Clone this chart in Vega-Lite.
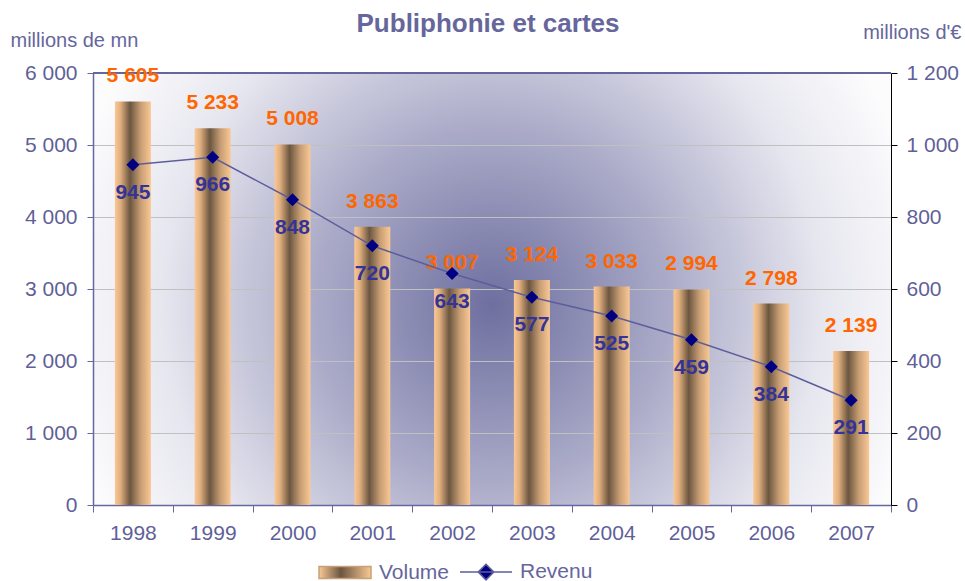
{
  "$schema": "https://vega.github.io/schema/vega-lite/v6.json",
  "width": 798,
  "height": 432,
  "autosize": "none",
  "padding": {"left": 93, "top": 73, "right": 74, "bottom": 76},
  "background": "white",
  "title": {"text": "Publiphonie et cartes", "fontSize": 26, "font": "Liberation Sans", "fontWeight": "bold", "color": "#66669c", "offset": -15, "dx": -4},
  "config": {
    "locale": {"number": {"decimal": ",", "thousands": " ", "grouping": [3], "currency": ["", ""]}},
    "font": "Liberation Sans",
    "view": {
      "stroke": null,
      "fill": {"gradient": "radial", "x1": 0.5, "y1": 0.52, "r1": 0, "x2": 0.5, "y2": 0.52, "r2": 0.55,
        "stops": [{"offset": 0, "color": "#6e6f9f"}, {"offset": 0.4, "color": "#aaaac8"}, {"offset": 0.75, "color": "#e6e6ef"}, {"offset": 1, "color": "#fcfcfd"}]}
    }
  },
  "data": {"values": [
    {"year": "1998", "volume": 5605, "revenu": 945},
    {"year": "1999", "volume": 5233, "revenu": 966},
    {"year": "2000", "volume": 5008, "revenu": 848},
    {"year": "2001", "volume": 3863, "revenu": 720},
    {"year": "2002", "volume": 3007, "revenu": 643},
    {"year": "2003", "volume": 3124, "revenu": 577},
    {"year": "2004", "volume": 3033, "revenu": 525},
    {"year": "2005", "volume": 2994, "revenu": 459},
    {"year": "2006", "volume": 2798, "revenu": 384},
    {"year": "2007", "volume": 2139, "revenu": 291}
  ]},
  "layer": [
    {
      "layer": [
        {
          "mark": {"type": "bar", "size": 36, "strokeWidth": 0,
            "color": {"gradient": "linear", "x1": 0, "y1": 0, "x2": 1, "y2": 0,
              "stops": [{"offset": 0, "color": "#fac894"}, {"offset": 0.15, "color": "#e2b07f"}, {"offset": 0.42, "color": "#6b5640"}, {"offset": 0.72, "color": "#c89e74"}, {"offset": 1, "color": "#fac894"}]}},
          "encoding": {
            "x": {"field": "year", "type": "ordinal", "scale": {"paddingInner": 0, "paddingOuter": 0},
              "axis": {"title": null, "labelAngle": 0, "tickBand": "extent", "domainColor": "#6666a0", "domainWidth": 1.5, "tickColor": "#6666a0", "tickSize": 7, "labelPadding": 10, "labelFontSize": 21, "labelColor": "#5f5f99", "grid": false}},
            "y": {"field": "volume", "type": "quantitative", "scale": {"domain": [0, 6000]},
              "axis": {"title": "millions de mn", "titleAngle": 0, "titleAlign": "left", "titleBaseline": "middle", "titleX": -83, "titleY": -33, "titleFontSize": 20, "titleFontWeight": "normal", "titleColor": "#66669c",
                "values": [0, 1000, 2000, 3000, 4000, 5000, 6000], "format": ",d", "labelFontSize": 21, "labelColor": "#5f5f99", "domainColor": "#6666a0", "domainWidth": 1.5, "tickColor": "#6666a0", "tickSize": 6, "labelPadding": 10, "gridColor": "#c0c0c0", "grid": true}},
            "stroke": {"datum": "Volume", "type": "nominal", "scale": {"domain": ["Volume", "Revenu"], "range": ["#c8a07a", "#5d5d9b"]},
              "legend": {"orient": "none", "legendX": 238, "legendY": 485, "direction": "horizontal", "title": null, "symbolSize": 676, "labelFontSize": 21, "labelColor": "#66669c", "labelOffset": 20, "columnPadding": 7, "symbolStrokeWidth": 1.5,
                "encode": {"symbols": {"update": {
                  "shape": {"signal": "datum.value === 'Volume' ? 'M-2,-0.46H2V0.46H-2Z' : 'M-2,0H2M0,-0.6L0.6,0L0,0.6L-0.6,0Z'"},
                  "fill": {"signal": "datum.value === 'Volume' ? {gradient: 'linear', x1: 0, y1: 0, x2: 1, y2: 0, stops: [{offset: 0, color: '#fac894'}, {offset: 0.42, color: '#6b5640'}, {offset: 1, color: '#fac894'}]} : '#000080'"},
                  "stroke": {"signal": "datum.value === 'Volume' ? 'transparent' : '#5d5d9b'"},
                  "strokeWidth": {"value": 1.5},
                  "opacity": {"value": 1},
                  "fillOpacity": {"value": 1}
                }}}}}
          }
        },
        {
          "mark": {"type": "rule", "color": "#6666a0", "strokeWidth": 1.5},
          "encoding": {"y": {"datum": 6000, "type": "quantitative"}}
        },
        {
          "mark": {"type": "text", "color": "#ff6600", "fontWeight": "bold", "fontSize": 21, "baseline": "middle", "dy": -25},
          "encoding": {
            "x": {"field": "year", "type": "ordinal"},
            "y": {"field": "volume", "type": "quantitative"},
            "text": {"field": "volume", "type": "quantitative", "format": ",d"}
          }
        }
      ]
    },
    {
      "layer": [
        {
          "mark": {"type": "line", "strokeWidth": 1.5},
          "encoding": {
            "x": {"field": "year", "type": "ordinal"},
            "y": {"field": "revenu", "type": "quantitative", "scale": {"domain": [0, 1200]},
              "axis": {"orient": "right", "title": "millions d'€", "titleAngle": 0, "titleAlign": "right", "titleBaseline": "middle", "titleX": 70, "titleY": -41, "titleFontSize": 20, "titleFontWeight": "normal", "titleColor": "#66669c",
                "values": [0, 200, 400, 600, 800, 1000, 1200], "format": ",d", "labelFontSize": 21, "labelColor": "#5f5f99", "domainColor": "#000000", "tickColor": "#000000", "tickSize": 6, "labelPadding": 9, "grid": false}},
            "stroke": {"datum": "Revenu", "type": "nominal",
              "legend": {"orient": "none", "legendX": 238, "legendY": 485, "direction": "horizontal", "title": null, "symbolSize": 676, "labelFontSize": 21, "labelColor": "#66669c", "labelOffset": 20, "columnPadding": 7, "symbolStrokeWidth": 1.5,
                "encode": {"symbols": {"update": {
                  "shape": {"signal": "datum.value === 'Volume' ? 'M-2,-0.46H2V0.46H-2Z' : 'M-2,0H2M0,-0.6L0.6,0L0,0.6L-0.6,0Z'"},
                  "fill": {"signal": "datum.value === 'Volume' ? {gradient: 'linear', x1: 0, y1: 0, x2: 1, y2: 0, stops: [{offset: 0, color: '#fac894'}, {offset: 0.42, color: '#6b5640'}, {offset: 1, color: '#fac894'}]} : '#000080'"},
                  "stroke": {"signal": "datum.value === 'Volume' ? 'transparent' : '#5d5d9b'"},
                  "strokeWidth": {"value": 1.5},
                  "opacity": {"value": 1},
                  "fillOpacity": {"value": 1}
                }}}}}
          }
        },
        {
          "mark": {"type": "point", "shape": "diamond", "filled": true, "color": "#000080", "size": 170, "opacity": 1},
          "encoding": {
            "x": {"field": "year", "type": "ordinal"},
            "y": {"field": "revenu", "type": "quantitative"}
          }
        },
        {
          "mark": {"type": "text", "color": "#333399", "fontWeight": "bold", "fontSize": 21, "dy": 28},
          "encoding": {
            "x": {"field": "year", "type": "ordinal"},
            "y": {"field": "revenu", "type": "quantitative"},
            "text": {"field": "revenu", "type": "quantitative", "format": ",d"}
          }
        }
      ]
    }
  ],
  "resolve": {"scale": {"y": "independent"}}
}
